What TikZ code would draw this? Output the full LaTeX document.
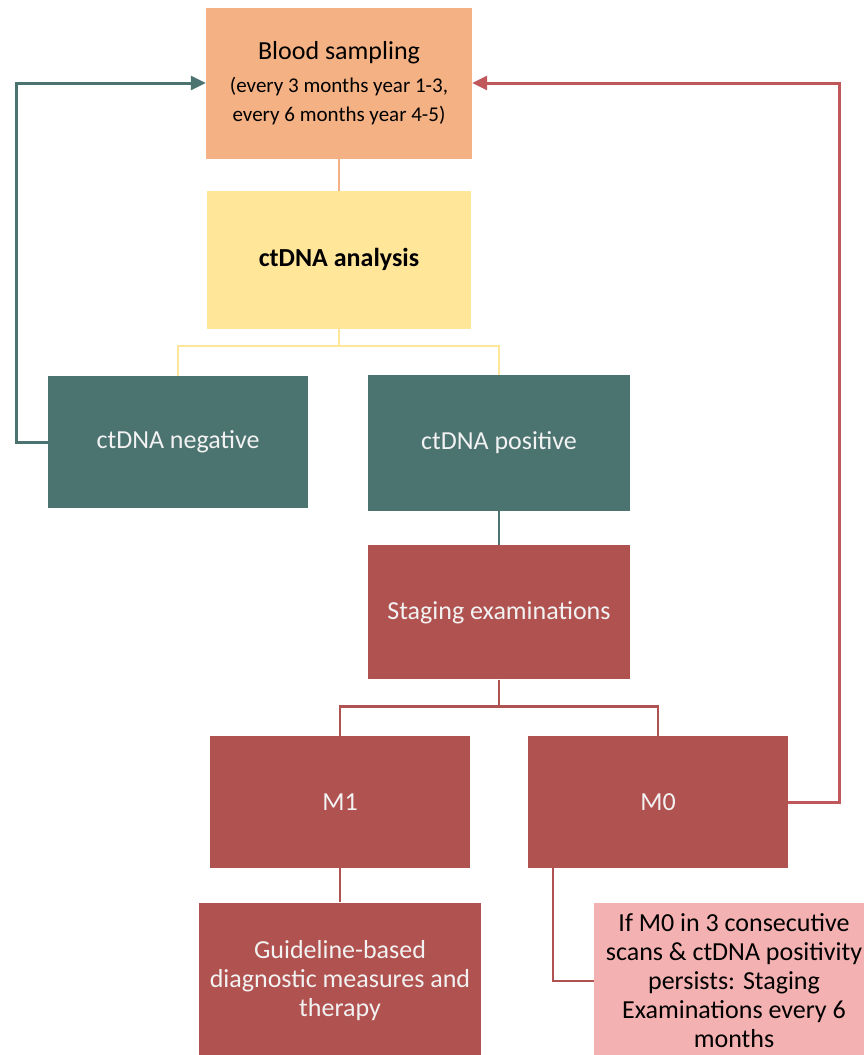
\documentclass[tikz,border=0pt]{standalone}
\usepackage{fontspec}
\setmainfont{Carlito}
\usetikzlibrary{positioning,arrows.meta}
\definecolor{bloodorange}{HTML}{F4B183}
\definecolor{assayyellow}{HTML}{FFE699}
\definecolor{resultteal}{HTML}{4B7370}
\definecolor{stagered}{HTML}{B0524F}
\definecolor{loopred}{HTML}{C0575A}
\definecolor{followpink}{HTML}{F4B1B1}
\definecolor{lighttext}{HTML}{F2F2F2}
\newcommand{\subsize}{\fontsize{21}{30}\selectfont}

\begin{document}
\begin{tikzpicture}[
    x=1pt, y=-1pt,
    box/.style={
        rectangle,
        fill=#1,
        minimum width=262pt,
        minimum height=134pt,
        inner sep=4pt,
        align=center,
        font=\fontsize{26}{29}\selectfont
    },
    box/.default=stagered,
    darkbox/.style={box=#1, text=lighttext},
    link/.style={draw=#1, line width=2.5pt},
    loop/.style={link=#1, line width=3pt, -{Triangle[length=15pt,width=14pt]}},
    node distance=32pt
]
  \useasboundingbox (0,0) rectangle (864,1055);

  \node[box=bloodorange, minimum width=266pt, minimum height=151pt] (blood) at (339,83)
    {Blood sampling\\[4pt]\subsize (every 3 months year 1-3,\\\subsize every 6 months year 4-5)};
  \node[box=assayyellow, minimum width=264pt, minimum height=138pt, below=32pt of blood,
    font=\fontsize{26}{29}\selectfont\bfseries] (analysis) {ctDNA analysis};

  \node[darkbox=resultteal, minimum width=260pt, minimum height=132pt] (neg) at (178,442) {ctDNA negative};
  \node[darkbox=resultteal, minimum height=136pt] (pos) at (499,443) {ctDNA positive};

  \node[darkbox=stagered, below=34pt of pos] (staging) {Staging examinations};

  \node[darkbox=stagered, minimum width=260pt, minimum height=132pt] (m1) at (340,802) {M1};
  \node[darkbox=stagered, minimum width=260pt, minimum height=132pt] (m0) at (658,802) {M0};

  \node[darkbox=stagered, minimum width=282pt, minimum height=157pt] (therapy) at (340,981)
    {Guideline-based\\diagnostic measures and\\therapy};
  \node[box=followpink, minimum width=280pt, minimum height=157pt] (followup) at (734,981)
    {If M0 in 3 consecutive\\scans \& ctDNA positivity\\persists: Staging\\Examinations every 6\\months};

  % tree connectors
  \draw[link=bloodorange, line width=2pt] (blood.south) -- (analysis.north);
  \draw[link=assayyellow] (analysis.south) -- ++(0,17) coordinate (split) -| (neg.north);
  \draw[link=assayyellow] (split) -| (pos.north);
  \draw[link=resultteal] (pos.south) -- (staging.north);
  \draw[link=stagered] (staging.south) -- ++(0,27) coordinate (fork) -| (m1.north);
  \draw[link=stagered] (fork) -| (m0.north);
  \draw[link=stagered] (m1.south) -- (therapy.north);
  \draw[link=stagered] ([xshift=25pt]m0.south west) |- (followup.west);

  % loops back to sampling
  \draw[loop=resultteal] (neg.west) -- ++(-31,0) |- (blood.west);
  \draw[loop=loopred] (m0.east) -- ++(51,0) |- (blood.east);
\end{tikzpicture}
\end{document}
